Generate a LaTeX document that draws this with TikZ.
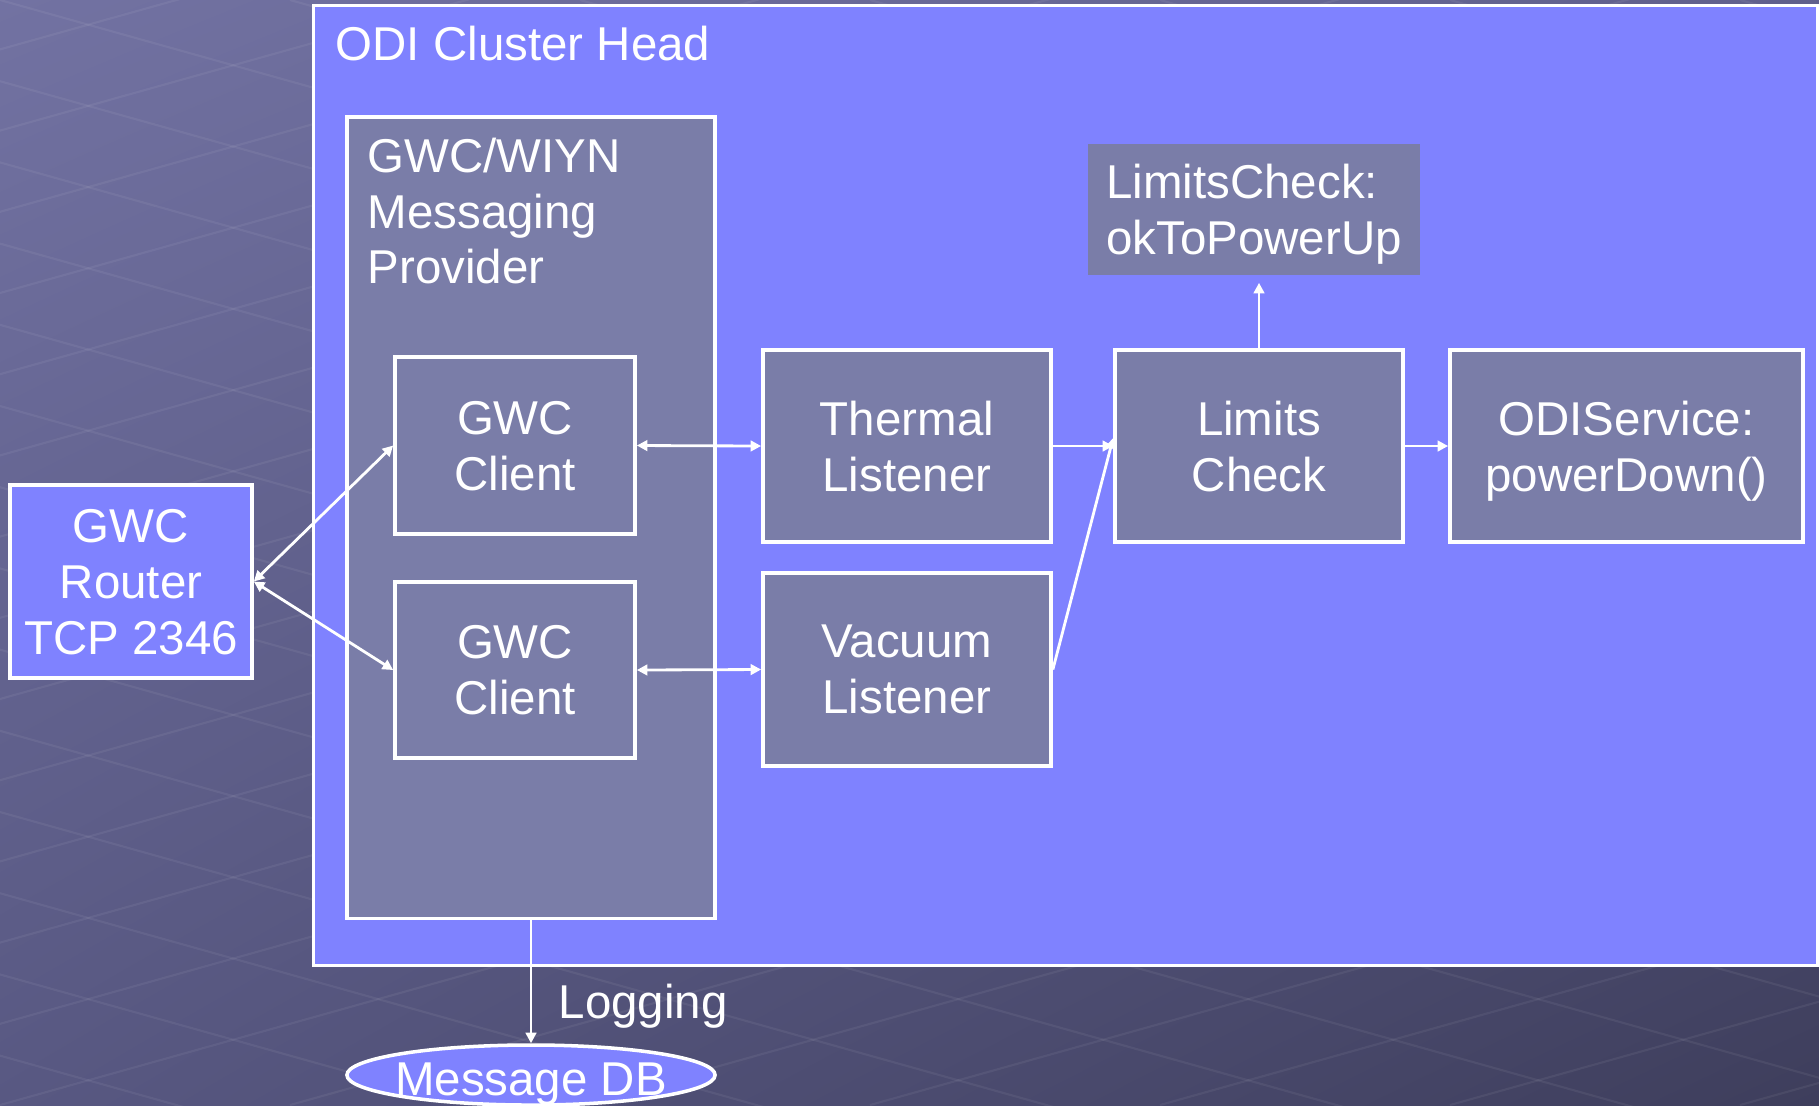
\documentclass[tikz,border=0pt]{standalone}
\usepackage{fontspec}
\setmainfont{Liberation Sans}
\usetikzlibrary{shapes}
\usetikzlibrary{shadings}
\usetikzlibrary{arrows.meta}
\usetikzlibrary{positioning}
\definecolor{slideBlue}{RGB}{127,130,255}
\definecolor{boxGray}{RGB}{122,125,168}
\definecolor{bgTL}{RGB}{114,114,162}
\definecolor{bgTR}{RGB}{96,96,140}
\definecolor{bgBL}{RGB}{88,88,130}
\definecolor{bgBR}{RGB}{62,62,92}
\newcommand{\slidefont}{\fontsize{13.5}{15.9}\selectfont}
\tikzset{graybox/.style={draw=white, line width=1pt, fill=boxGray, text=white, align=center, text depth=0pt, font=\slidefont}}
\tikzset{bluebox/.style={draw=white, line width=1pt, fill=slideBlue, text=white, align=center, text depth=0pt, font=\slidefont}}
\tikzset{plaintext/.style={text=white, font=\slidefont, inner sep=0pt}}
\tikzset{link/.style={white, line width=0.8pt}}

\begin{document}
\begin{tikzpicture}[x=0.01cm, y=-0.01cm, >={Triangle[length=3pt,width=3pt]}]

\useasboundingbox (0,0) rectangle (1819,1105);

% slide background
\shade[upper left=bgTL, upper right=bgTR, lower left=bgBL, lower right=bgBR] (0,0) rectangle (1819,1105);
\begin{scope}
\clip (0,0) rectangle (1819,1105);
\foreach \k in {-14,...,7} {
  \draw[white, opacity=0.06, line width=0.6pt] (\k*290,0) -- ++(4000,1120);
  \draw[white, opacity=0.06, line width=0.6pt] (\k*290,1105) -- ++(4000,-1120);
}
\end{scope}

% cluster head
\node[bluebox, minimum width=15.03cm, minimum height=9.59cm] (cluster) at (1065.5,485.5) {};
\node[plaintext, anchor=base west] (clustertitle) at (335,60) {ODI Cluster Head};

% messaging provider
\node[graybox, minimum width=3.68cm, minimum height=8.01cm] (provider) at (531,517.5) {};
\node[plaintext, anchor=north west, align=left] (providertitle) at (367,137) {GWC/WIYN\\Messaging\\Provider};

\node[graybox, minimum width=2.40cm, minimum height=1.77cm] (client1) at (515,445.5) {GWC\\Client};
\node[graybox, minimum width=2.40cm, minimum height=1.76cm] (client2) at (515,670) {GWC\\Client};

% listeners and checks
\node[graybox, minimum width=2.88cm, minimum height=1.92cm] (thermal) at (907,446) {Thermal\\Listener};
\node[graybox, minimum width=2.88cm, minimum height=1.93cm] (vacuum) at (907,669.5) {Vacuum\\Listener};
\node[graybox, minimum width=2.88cm, minimum height=1.92cm] (limits) at (1259,446) {Limits\\Check};
\node[graybox, minimum width=3.53cm, minimum height=1.92cm] (odiservice) at (1626.5,446) {ODIService:\\powerDown()};
\node[graybox, draw=none, align=left, minimum width=3.32cm, minimum height=1.31cm] (okpower) at (1254,209.5) {LimitsCheck:\\okToPowerUp};

% router and database
\node[bluebox, minimum width=2.42cm, minimum height=1.93cm] (router) at (131,581.5) {GWC\\Router\\TCP 2346};
\node[ellipse, draw=white, line width=1pt, fill=slideBlue, text=white, font=\slidefont, minimum width=3.68cm, minimum height=0.6cm, inner ysep=0pt, inner xsep=-0.3cm, text height=0.4cm, text depth=0pt] (msgdb) at (531,1075) {Message DB};
\node[plaintext, anchor=base west] (logging) at (558,1018) {Logging};

\draw[link, <->] (router.east) -- (client1.west);
\draw[link, <->] (router.east) -- (client2.west);
\draw[link, <->] (client1.east) -- (thermal.west);
\draw[link, <->] (client2.east) -- (vacuum.west);
\draw[link, ->] (thermal.east) -- (limits.west);
\draw[link, ->] (vacuum.east) -- ([yshift=0.08cm]limits.west);
\draw[link, ->] (limits.east) -- (odiservice.west);
\draw[link, ->, shorten >=0.06cm] (limits.north) -- (limits.north |- okpower.south);
\draw[link, ->] (provider.south) -- (msgdb.north);

\end{tikzpicture}
\end{document}
